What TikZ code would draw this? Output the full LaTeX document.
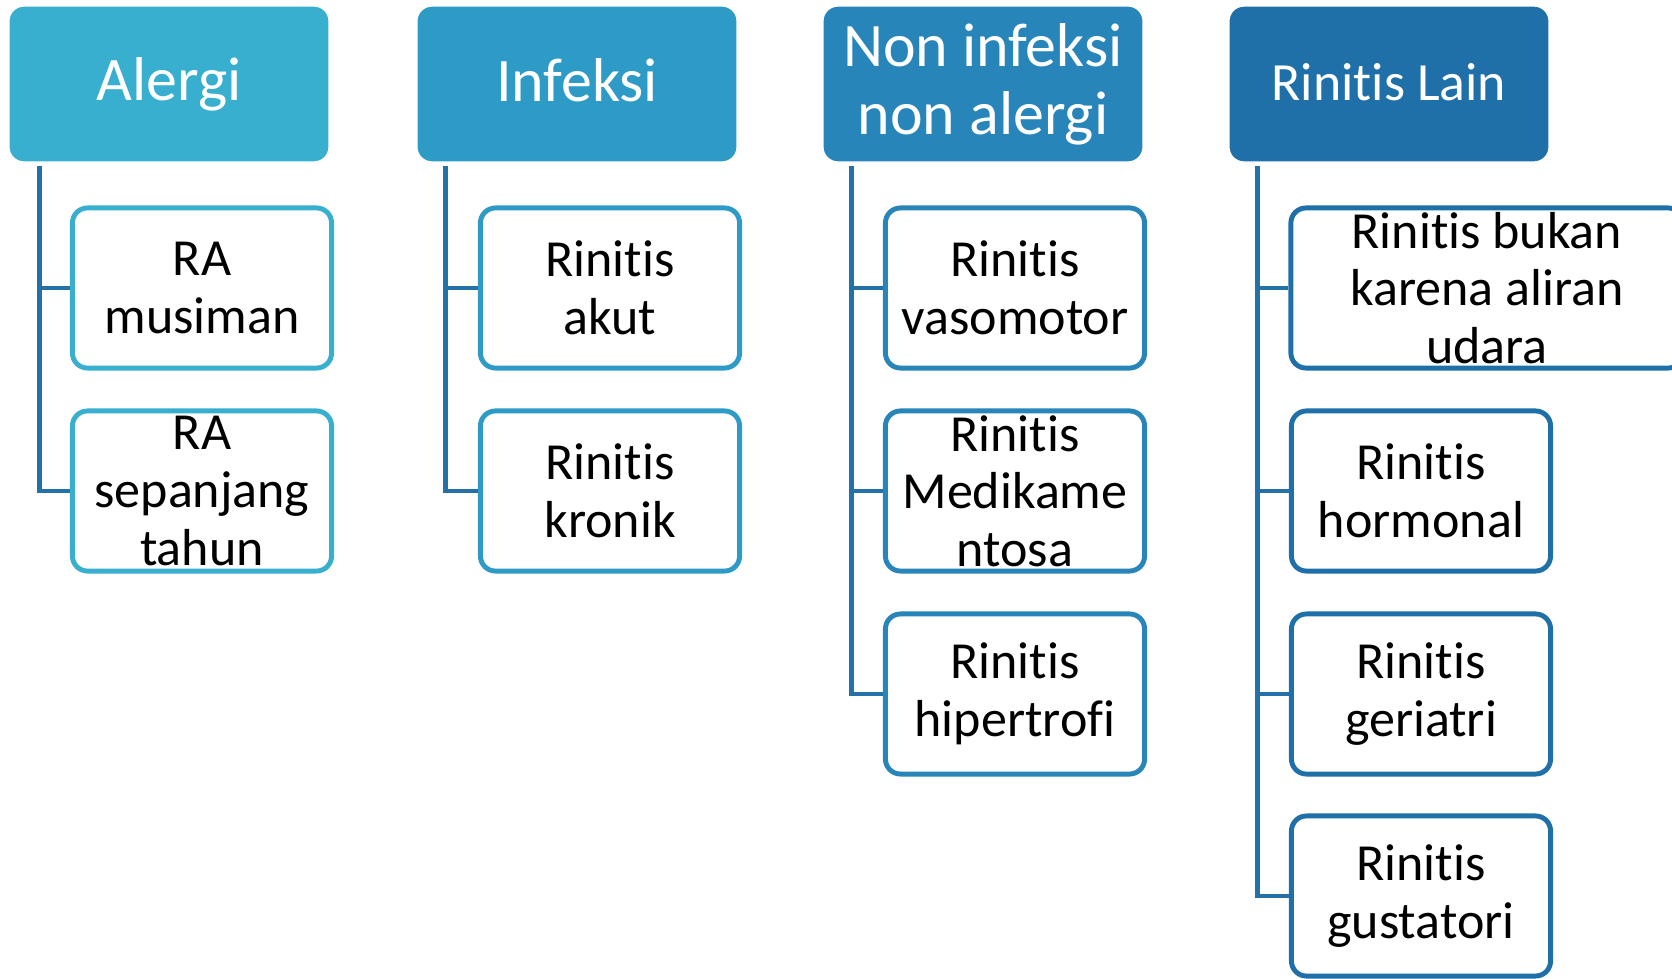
\documentclass[tikz,border=0pt]{standalone}
\usepackage{fontspec}
\setmainfont{Carlito}[Ligatures=NoCommon]
\usepackage{tikz}

\definecolor{alergi}{RGB}{56,175,207}
\definecolor{infeksi}{RGB}{46,155,198}
\definecolor{noninf}{RGB}{39,133,186}
\definecolor{lain}{RGB}{31,111,169}
\definecolor{linkblue}{RGB}{36,112,168}

\begin{document}
\begin{tikzpicture}[x=0.01cm,y=-0.01cm,
	head/.style={rectangle, rounded corners=0.15cm, draw=white, line width=0.4pt, text=white, minimum width=3.2cm, minimum height=1.56cm, inner sep=0pt, align=center, font=\fontsize{17.6}{19.3}\selectfont},
	item/.style={rectangle, rounded corners=0.15cm, fill=white, line width=1.4pt, minimum width=2.59cm, minimum height=1.6cm, inner sep=0pt, align=center, font=\fontsize{14.8}{16.4}\selectfont},
	link/.style={draw=linkblue, line width=1.4pt}]
	\useasboundingbox (0,0) rectangle (1672,979);
	\clip (0,0) rectangle (1672,979);

	% headers
	\node[head, fill=alergi] (al) at (169,84) {Alergi};
	\node[head, fill=infeksi, text depth=0.2em] (inf) at (577,84) {Infeksi};
	\node[head, fill=noninf] (nn) at (983,84) {Non infeksi\\non alergi};
	\node[head, fill=lain, text depth=0.1em, font=\fontsize{15.3}{17}\selectfont] (ln) at (1389,84) {Rinitis Lain};

	% Alergi
	\node[item, draw=alergi] (al1) at (202,288) {RA\\musiman};
	\node[item, draw=alergi] (al2) at (202,491) {RA\\sepanjang\\tahun};
	% Infeksi
	\node[item, draw=infeksi] (inf1) at (610,288) {Rinitis\\akut};
	\node[item, draw=infeksi] (inf2) at (610,491) {Rinitis\\kronik};
	% Non infeksi non alergi
	\node[item, draw=noninf] (nn1) at (1015,288) {Rinitis\\vasomotor};
	\node[item, draw=noninf] (nn2) at (1015,491) {Rinitis\\Medikame\\ntosa};
	\node[item, draw=noninf] (nn3) at (1015,694) {Rinitis\\hipertrofi};
	% Rinitis Lain
	\node[item, draw=lain, minimum width=3.92cm] (ln1) at (1487,288) {Rinitis bukan\\karena aliran\\udara};
	\node[item, draw=lain] (ln2) at (1421,491) {Rinitis\\hormonal};
	\node[item, draw=lain] (ln3) at (1421,694) {Rinitis\\geriatri};
	\node[item, draw=lain] (ln4) at (1421,896) {Rinitis\\gustatori};

	% connectors
	\draw[link] (al1.west) -| ([xshift=0.31cm,yshift=-0.03cm]al.south west);
	\draw[link] (al2.west) -| ([xshift=0.31cm,yshift=-0.03cm]al.south west);
	\draw[link] (inf1.west) -| ([xshift=0.29cm,yshift=-0.03cm]inf.south west);
	\draw[link] (inf2.west) -| ([xshift=0.29cm,yshift=-0.03cm]inf.south west);
	\draw[link] (nn1.west) -| ([xshift=0.29cm,yshift=-0.03cm]nn.south west);
	\draw[link] (nn2.west) -| ([xshift=0.29cm,yshift=-0.03cm]nn.south west);
	\draw[link] (nn3.west) -| ([xshift=0.29cm,yshift=-0.03cm]nn.south west);
	\draw[link] (ln1.west) -| ([xshift=0.29cm,yshift=-0.03cm]ln.south west);
	\draw[link] (ln2.west) -| ([xshift=0.29cm,yshift=-0.03cm]ln.south west);
	\draw[link] (ln3.west) -| ([xshift=0.29cm,yshift=-0.03cm]ln.south west);
	\draw[link] (ln4.west) -| ([xshift=0.29cm,yshift=-0.03cm]ln.south west);
\end{tikzpicture}
\end{document}
